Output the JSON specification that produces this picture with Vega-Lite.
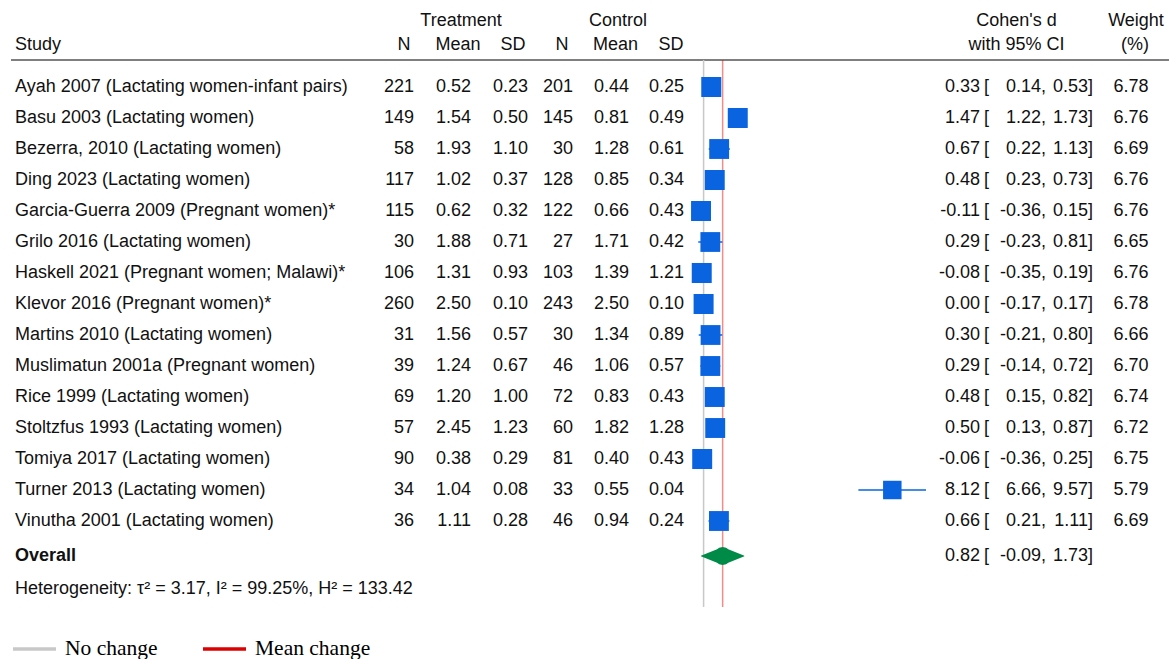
{
  "$schema": "https://vega.github.io/schema/vega-lite/v6.json",
  "padding": {"left": 10, "top": 9.5, "right": 0, "bottom": 0},
  "background": "white",
  "data": {"values": [{}]},
  "datasets": {
    "studies": [
      {"study": "Ayah 2007 (Lactating women-infant pairs)", "tN": 221, "tMean": 0.52, "tSD": 0.23, "cN": 201, "cMean": 0.44, "cSD": 0.25, "d": 0.33, "lo": 0.14, "hi": 0.53, "w": 6.78},
      {"study": "Basu 2003 (Lactating women)", "tN": 149, "tMean": 1.54, "tSD": 0.50, "cN": 145, "cMean": 0.81, "cSD": 0.49, "d": 1.47, "lo": 1.22, "hi": 1.73, "w": 6.76},
      {"study": "Bezerra, 2010 (Lactating women)", "tN": 58, "tMean": 1.93, "tSD": 1.10, "cN": 30, "cMean": 1.28, "cSD": 0.61, "d": 0.67, "lo": 0.22, "hi": 1.13, "w": 6.69},
      {"study": "Ding 2023 (Lactating women)", "tN": 117, "tMean": 1.02, "tSD": 0.37, "cN": 128, "cMean": 0.85, "cSD": 0.34, "d": 0.48, "lo": 0.23, "hi": 0.73, "w": 6.76},
      {"study": "Garcia-Guerra 2009 (Pregnant women)*", "tN": 115, "tMean": 0.62, "tSD": 0.32, "cN": 122, "cMean": 0.66, "cSD": 0.43, "d": -0.11, "lo": -0.36, "hi": 0.15, "w": 6.76},
      {"study": "Grilo 2016 (Lactating women)", "tN": 30, "tMean": 1.88, "tSD": 0.71, "cN": 27, "cMean": 1.71, "cSD": 0.42, "d": 0.29, "lo": -0.23, "hi": 0.81, "w": 6.65},
      {"study": "Haskell 2021 (Pregnant women; Malawi)*", "tN": 106, "tMean": 1.31, "tSD": 0.93, "cN": 103, "cMean": 1.39, "cSD": 1.21, "d": -0.08, "lo": -0.35, "hi": 0.19, "w": 6.76},
      {"study": "Klevor 2016 (Pregnant women)*", "tN": 260, "tMean": 2.50, "tSD": 0.10, "cN": 243, "cMean": 2.50, "cSD": 0.10, "d": 0.00, "lo": -0.17, "hi": 0.17, "w": 6.78},
      {"study": "Martins 2010 (Lactating women)", "tN": 31, "tMean": 1.56, "tSD": 0.57, "cN": 30, "cMean": 1.34, "cSD": 0.89, "d": 0.30, "lo": -0.21, "hi": 0.80, "w": 6.66},
      {"study": "Muslimatun 2001a (Pregnant women)", "tN": 39, "tMean": 1.24, "tSD": 0.67, "cN": 46, "cMean": 1.06, "cSD": 0.57, "d": 0.29, "lo": -0.14, "hi": 0.72, "w": 6.70},
      {"study": "Rice 1999 (Lactating women)", "tN": 69, "tMean": 1.20, "tSD": 1.00, "cN": 72, "cMean": 0.83, "cSD": 0.43, "d": 0.48, "lo": 0.15, "hi": 0.82, "w": 6.74},
      {"study": "Stoltzfus 1993 (Lactating women)", "tN": 57, "tMean": 2.45, "tSD": 1.23, "cN": 60, "cMean": 1.82, "cSD": 1.28, "d": 0.50, "lo": 0.13, "hi": 0.87, "w": 6.72},
      {"study": "Tomiya 2017 (Lactating women)", "tN": 90, "tMean": 0.38, "tSD": 0.29, "cN": 81, "cMean": 0.40, "cSD": 0.43, "d": -0.06, "lo": -0.36, "hi": 0.25, "w": 6.75},
      {"study": "Turner 2013 (Lactating women)", "tN": 34, "tMean": 1.04, "tSD": 0.08, "cN": 33, "cMean": 0.55, "cSD": 0.04, "d": 8.12, "lo": 6.66, "hi": 9.57, "w": 5.79},
      {"study": "Vinutha 2001 (Lactating women)", "tN": 36, "tMean": 1.11, "tSD": 0.28, "cN": 46, "cMean": 0.94, "cSD": 0.24, "d": 0.66, "lo": 0.21, "hi": 1.11, "w": 6.69}
    ],
    "overall": [{"label": "Overall", "d": 0.82, "lo": -0.09, "hi": 1.73}]
  },
  "spacing": 0,
  "bounds": "flush",
  "config": {
    "view": {"stroke": null},
    "text": {"font": "Liberation Sans", "fontSize": 18, "color": "#111111"},
    "locale": {"number": {"decimal": ".", "thousands": ",", "grouping": [3], "currency": ["$", ""], "minus": "-"}}
  },
  "hconcat": [
    {
      "width": 350, "height": 620,
      "layer": [
        {"mark": {"type": "rule", "color": "#555555", "strokeWidth": 1.5}, "encoding": {"x": {"value": 0}, "x2": {"value": "width"}, "y": {"datum": "h2", "type": "nominal", "bandPosition": 0.629, "axis": null, "scale": {"type": "band", "domain": ["h1","h2","Ayah 2007 (Lactating women-infant pairs)","Basu 2003 (Lactating women)","Bezerra, 2010 (Lactating women)","Ding 2023 (Lactating women)","Garcia-Guerra 2009 (Pregnant women)*","Grilo 2016 (Lactating women)","Haskell 2021 (Pregnant women; Malawi)*","Klevor 2016 (Pregnant women)*","Martins 2010 (Lactating women)","Muslimatun 2001a (Pregnant women)","Rice 1999 (Lactating women)","Stoltzfus 1993 (Lactating women)","Tomiya 2017 (Lactating women)","Turner 2013 (Lactating women)","Vinutha 2001 (Lactating women)","Overall","Het","end"], "paddingInner": 0, "paddingOuter": 0}}}},
        {"mark": {"type": "text", "align": "left", "dx": 4, "text": "Study"}, "encoding": {"x": {"value": 0}, "y": {"datum": "h2", "type": "nominal", "bandPosition": 0.161, "axis": null}}},
        {"data": {"name": "studies"}, "mark": {"type": "text", "align": "left", "dx": 4}, "encoding": {"x": {"value": 0}, "y": {"field": "study", "type": "nominal", "axis": null}, "text": {"field": "study"}}},
        {"data": {"name": "overall"}, "mark": {"type": "text", "align": "left", "dx": 4, "fontWeight": "bold"}, "encoding": {"x": {"value": 0}, "y": {"datum": "Overall", "type": "nominal", "bandPosition": 0.629, "axis": null}, "text": {"field": "label"}}},
        {"mark": {"type": "text", "align": "left", "dx": 4, "text": "Heterogeneity: τ² = 3.17, I² = 99.25%, H² = 133.42"}, "encoding": {"x": {"value": 0}, "y": {"datum": "Het", "type": "nominal", "bandPosition": 0.694, "axis": null}}}
      ]
    },
    {
      "width": 53, "height": 620,
      "layer": [
        {"mark": {"type": "rule", "color": "#555555", "strokeWidth": 1.5}, "encoding": {"x": {"value": 0}, "x2": {"value": "width"}, "y": {"datum": "h2", "type": "nominal", "bandPosition": 0.629, "axis": null, "scale": {"type": "band", "domain": ["h1","h2","Ayah 2007 (Lactating women-infant pairs)","Basu 2003 (Lactating women)","Bezerra, 2010 (Lactating women)","Ding 2023 (Lactating women)","Garcia-Guerra 2009 (Pregnant women)*","Grilo 2016 (Lactating women)","Haskell 2021 (Pregnant women; Malawi)*","Klevor 2016 (Pregnant women)*","Martins 2010 (Lactating women)","Muslimatun 2001a (Pregnant women)","Rice 1999 (Lactating women)","Stoltzfus 1993 (Lactating women)","Tomiya 2017 (Lactating women)","Turner 2013 (Lactating women)","Vinutha 2001 (Lactating women)","Overall","Het","end"], "paddingInner": 0, "paddingOuter": 0}}}},
        {"mark": {"type": "text", "align": "center", "dx": -10, "text": "N"}, "encoding": {"x": {"value": "width"}, "y": {"datum": "h2", "type": "nominal", "bandPosition": 0.161, "axis": null}}},
        {"data": {"name": "studies"}, "mark": {"type": "text", "align": "right"}, "encoding": {"x": {"value": "width"}, "y": {"field": "study", "type": "nominal", "axis": null}, "text": {"field": "tN", "type": "quantitative", "format": "d"}}}
      ]
    },
    {
      "width": 57, "height": 620,
      "layer": [
        {"mark": {"type": "rule", "color": "#555555", "strokeWidth": 1.5}, "encoding": {"x": {"value": 0}, "x2": {"value": "width"}, "y": {"datum": "h2", "type": "nominal", "bandPosition": 0.629, "axis": null, "scale": {"type": "band", "domain": ["h1","h2","Ayah 2007 (Lactating women-infant pairs)","Basu 2003 (Lactating women)","Bezerra, 2010 (Lactating women)","Ding 2023 (Lactating women)","Garcia-Guerra 2009 (Pregnant women)*","Grilo 2016 (Lactating women)","Haskell 2021 (Pregnant women; Malawi)*","Klevor 2016 (Pregnant women)*","Martins 2010 (Lactating women)","Muslimatun 2001a (Pregnant women)","Rice 1999 (Lactating women)","Stoltzfus 1993 (Lactating women)","Tomiya 2017 (Lactating women)","Turner 2013 (Lactating women)","Vinutha 2001 (Lactating women)","Overall","Het","end"], "paddingInner": 0, "paddingOuter": 0}}}},
        {"mark": {"type": "text", "align": "center", "dx": -10, "text": "Treatment"}, "encoding": {"x": {"value": "width"}, "y": {"datum": "h1", "type": "nominal", "bandPosition": 0.355, "axis": null}}},
        {"mark": {"type": "text", "align": "center", "dx": -13, "text": "Mean"}, "encoding": {"x": {"value": "width"}, "y": {"datum": "h2", "type": "nominal", "bandPosition": 0.161, "axis": null}}},
        {"data": {"name": "studies"}, "mark": {"type": "text", "align": "right"}, "encoding": {"x": {"value": "width"}, "y": {"field": "study", "type": "nominal", "axis": null}, "text": {"field": "tMean", "type": "quantitative", "format": ".2f"}}}
      ]
    },
    {
      "width": 57, "height": 620,
      "layer": [
        {"mark": {"type": "rule", "color": "#555555", "strokeWidth": 1.5}, "encoding": {"x": {"value": 0}, "x2": {"value": "width"}, "y": {"datum": "h2", "type": "nominal", "bandPosition": 0.629, "axis": null, "scale": {"type": "band", "domain": ["h1","h2","Ayah 2007 (Lactating women-infant pairs)","Basu 2003 (Lactating women)","Bezerra, 2010 (Lactating women)","Ding 2023 (Lactating women)","Garcia-Guerra 2009 (Pregnant women)*","Grilo 2016 (Lactating women)","Haskell 2021 (Pregnant women; Malawi)*","Klevor 2016 (Pregnant women)*","Martins 2010 (Lactating women)","Muslimatun 2001a (Pregnant women)","Rice 1999 (Lactating women)","Stoltzfus 1993 (Lactating women)","Tomiya 2017 (Lactating women)","Turner 2013 (Lactating women)","Vinutha 2001 (Lactating women)","Overall","Het","end"], "paddingInner": 0, "paddingOuter": 0}}}},
        {"mark": {"type": "text", "align": "center", "dx": -15, "text": "SD"}, "encoding": {"x": {"value": "width"}, "y": {"datum": "h2", "type": "nominal", "bandPosition": 0.161, "axis": null}}},
        {"data": {"name": "studies"}, "mark": {"type": "text", "align": "right"}, "encoding": {"x": {"value": "width"}, "y": {"field": "study", "type": "nominal", "axis": null}, "text": {"field": "tSD", "type": "quantitative", "format": ".2f"}}}
      ]
    },
    {
      "width": 45, "height": 620,
      "layer": [
        {"mark": {"type": "rule", "color": "#555555", "strokeWidth": 1.5}, "encoding": {"x": {"value": 0}, "x2": {"value": "width"}, "y": {"datum": "h2", "type": "nominal", "bandPosition": 0.629, "axis": null, "scale": {"type": "band", "domain": ["h1","h2","Ayah 2007 (Lactating women-infant pairs)","Basu 2003 (Lactating women)","Bezerra, 2010 (Lactating women)","Ding 2023 (Lactating women)","Garcia-Guerra 2009 (Pregnant women)*","Grilo 2016 (Lactating women)","Haskell 2021 (Pregnant women; Malawi)*","Klevor 2016 (Pregnant women)*","Martins 2010 (Lactating women)","Muslimatun 2001a (Pregnant women)","Rice 1999 (Lactating women)","Stoltzfus 1993 (Lactating women)","Tomiya 2017 (Lactating women)","Turner 2013 (Lactating women)","Vinutha 2001 (Lactating women)","Overall","Het","end"], "paddingInner": 0, "paddingOuter": 0}}}},
        {"mark": {"type": "text", "align": "center", "dx": -11, "text": "N"}, "encoding": {"x": {"value": "width"}, "y": {"datum": "h2", "type": "nominal", "bandPosition": 0.161, "axis": null}}},
        {"data": {"name": "studies"}, "mark": {"type": "text", "align": "right"}, "encoding": {"x": {"value": "width"}, "y": {"field": "study", "type": "nominal", "axis": null}, "text": {"field": "cN", "type": "quantitative", "format": "d"}}}
      ]
    },
    {
      "width": 56, "height": 620,
      "layer": [
        {"mark": {"type": "rule", "color": "#555555", "strokeWidth": 1.5}, "encoding": {"x": {"value": 0}, "x2": {"value": "width"}, "y": {"datum": "h2", "type": "nominal", "bandPosition": 0.629, "axis": null, "scale": {"type": "band", "domain": ["h1","h2","Ayah 2007 (Lactating women-infant pairs)","Basu 2003 (Lactating women)","Bezerra, 2010 (Lactating women)","Ding 2023 (Lactating women)","Garcia-Guerra 2009 (Pregnant women)*","Grilo 2016 (Lactating women)","Haskell 2021 (Pregnant women; Malawi)*","Klevor 2016 (Pregnant women)*","Martins 2010 (Lactating women)","Muslimatun 2001a (Pregnant women)","Rice 1999 (Lactating women)","Stoltzfus 1993 (Lactating women)","Tomiya 2017 (Lactating women)","Turner 2013 (Lactating women)","Vinutha 2001 (Lactating women)","Overall","Het","end"], "paddingInner": 0, "paddingOuter": 0}}}},
        {"mark": {"type": "text", "align": "center", "dx": -11, "text": "Control"}, "encoding": {"x": {"value": "width"}, "y": {"datum": "h1", "type": "nominal", "bandPosition": 0.355, "axis": null}}},
        {"mark": {"type": "text", "align": "center", "dx": -13.5, "text": "Mean"}, "encoding": {"x": {"value": "width"}, "y": {"datum": "h2", "type": "nominal", "bandPosition": 0.161, "axis": null}}},
        {"data": {"name": "studies"}, "mark": {"type": "text", "align": "right"}, "encoding": {"x": {"value": "width"}, "y": {"field": "study", "type": "nominal", "axis": null}, "text": {"field": "cMean", "type": "quantitative", "format": ".2f"}}}
      ]
    },
    {
      "width": 56, "height": 620,
      "layer": [
        {"mark": {"type": "rule", "color": "#555555", "strokeWidth": 1.5}, "encoding": {"x": {"value": 0}, "x2": {"value": "width"}, "y": {"datum": "h2", "type": "nominal", "bandPosition": 0.629, "axis": null, "scale": {"type": "band", "domain": ["h1","h2","Ayah 2007 (Lactating women-infant pairs)","Basu 2003 (Lactating women)","Bezerra, 2010 (Lactating women)","Ding 2023 (Lactating women)","Garcia-Guerra 2009 (Pregnant women)*","Grilo 2016 (Lactating women)","Haskell 2021 (Pregnant women; Malawi)*","Klevor 2016 (Pregnant women)*","Martins 2010 (Lactating women)","Muslimatun 2001a (Pregnant women)","Rice 1999 (Lactating women)","Stoltzfus 1993 (Lactating women)","Tomiya 2017 (Lactating women)","Turner 2013 (Lactating women)","Vinutha 2001 (Lactating women)","Overall","Het","end"], "paddingInner": 0, "paddingOuter": 0}}}},
        {"mark": {"type": "text", "align": "center", "dx": -14, "text": "SD"}, "encoding": {"x": {"value": "width"}, "y": {"datum": "h2", "type": "nominal", "bandPosition": 0.161, "axis": null}}},
        {"data": {"name": "studies"}, "mark": {"type": "text", "align": "right", "dx": -1}, "encoding": {"x": {"value": "width"}, "y": {"field": "study", "type": "nominal", "axis": null}, "text": {"field": "cSD", "type": "quantitative", "format": ".2f"}}}
      ]
    },
    {
      "width": 251, "height": 620,
      "resolve": {"scale": {"size": "independent"}},
      "layer": [
        {"mark": {"type": "rule", "color": "#555555", "strokeWidth": 1.5}, "encoding": {"x": {"value": 0}, "x2": {"value": "width"}, "y": {"datum": "h2", "type": "nominal", "bandPosition": 0.629, "axis": null, "scale": {"type": "band", "domain": ["h1","h2","Ayah 2007 (Lactating women-infant pairs)","Basu 2003 (Lactating women)","Bezerra, 2010 (Lactating women)","Ding 2023 (Lactating women)","Garcia-Guerra 2009 (Pregnant women)*","Grilo 2016 (Lactating women)","Haskell 2021 (Pregnant women; Malawi)*","Klevor 2016 (Pregnant women)*","Martins 2010 (Lactating women)","Muslimatun 2001a (Pregnant women)","Rice 1999 (Lactating women)","Stoltzfus 1993 (Lactating women)","Tomiya 2017 (Lactating women)","Turner 2013 (Lactating women)","Vinutha 2001 (Lactating women)","Overall","Het","end"], "paddingInner": 0, "paddingOuter": 0}}}},
        {"mark": {"type": "rule", "strokeWidth": 1.5}, "encoding": {
          "x": {"datum": 0, "type": "quantitative", "axis": null, "scale": {"domain": [-0.8, 10], "nice": false, "zero": false}},
          "y": {"datum": "h2", "type": "nominal", "bandPosition": 0.629, "axis": null},
          "y2": {"datum": "end", "bandPosition": 0.274},
          "color": {"datum": "No change", "type": "nominal", "scale": {"domain": ["No change", "Mean change"], "range": ["#c8c8c8", "#dd0000"]},
            "legend": {"title": null, "orient": "none", "legendX": 0, "legendY": 616, "direction": "horizontal", "symbolType": "stroke", "symbolSize": 1849, "symbolStrokeWidth": 3.5, "symbolOpacity": 1, "labelFont": "Liberation Serif", "labelFontSize": 21.5, "labelColor": "#000000", "labelOffset": 7, "columnPadding": 38, "padding": 0, "labelLimit": 400,
              "encode": {"symbols": {"update": {"opacity": {"value": 1}, "strokeWidth": {"value": 3.5}}}}}}
        }},
        {"data": {"name": "overall"}, "mark": {"type": "rule", "strokeWidth": 1.5, "opacity": 0.45}, "encoding": {
          "x": {"field": "d", "type": "quantitative", "axis": null, "scale": {"domain": [-0.8, 10], "nice": false, "zero": false}},
          "y": {"datum": "h2", "type": "nominal", "bandPosition": 0.629, "axis": null},
          "y2": {"datum": "end", "bandPosition": 0.274},
          "color": {"datum": "Mean change", "type": "nominal"}
        }},
        {"data": {"name": "studies"}, "mark": {"type": "rule", "color": "#0a64e0", "strokeWidth": 1.5}, "encoding": {
          "x": {"field": "lo", "type": "quantitative", "axis": null, "scale": {"domain": [-0.8, 10], "nice": false, "zero": false}},
          "x2": {"field": "hi"},
          "y": {"field": "study", "type": "nominal", "axis": null}
        }},
        {"data": {"name": "studies"}, "mark": {"type": "point", "shape": "square", "filled": true, "color": "#0a64e0", "opacity": 1}, "encoding": {
          "x": {"field": "d", "type": "quantitative", "axis": null, "scale": {"domain": [-0.8, 10], "nice": false, "zero": false}},
          "y": {"field": "study", "type": "nominal", "axis": null},
          "size": {"field": "w", "type": "quantitative", "scale": {"domain": [0, 6.78], "range": [0, 400]}, "legend": null}
        }},
        {"data": {"name": "overall"}, "transform": [{"fold": ["lo", "d", "hi"], "as": ["part", "val"]}], "mark": {"type": "trail", "color": "#008a48"}, "encoding": {
          "x": {"field": "val", "type": "quantitative", "axis": null, "scale": {"domain": [-0.8, 10], "nice": false, "zero": false}},
          "y": {"datum": "Overall", "type": "nominal", "bandPosition": 0.629, "axis": null},
          "order": {"field": "val", "type": "quantitative"},
          "size": {"field": "part", "type": "nominal", "scale": {"type": "ordinal", "domain": ["lo", "d", "hi"], "range": [0, 18, 0]}, "legend": null}
        }}
      ]
    },
    {
      "width": 44, "height": 620,
      "layer": [
        {"mark": {"type": "rule", "color": "#555555", "strokeWidth": 1.5}, "encoding": {"x": {"value": 0}, "x2": {"value": "width"}, "y": {"datum": "h2", "type": "nominal", "bandPosition": 0.629, "axis": null, "scale": {"type": "band", "domain": ["h1","h2","Ayah 2007 (Lactating women-infant pairs)","Basu 2003 (Lactating women)","Bezerra, 2010 (Lactating women)","Ding 2023 (Lactating women)","Garcia-Guerra 2009 (Pregnant women)*","Grilo 2016 (Lactating women)","Haskell 2021 (Pregnant women; Malawi)*","Klevor 2016 (Pregnant women)*","Martins 2010 (Lactating women)","Muslimatun 2001a (Pregnant women)","Rice 1999 (Lactating women)","Stoltzfus 1993 (Lactating women)","Tomiya 2017 (Lactating women)","Turner 2013 (Lactating women)","Vinutha 2001 (Lactating women)","Overall","Het","end"], "paddingInner": 0, "paddingOuter": 0}}}},
        {"data": {"name": "studies"}, "mark": {"type": "text", "align": "right"}, "encoding": {"x": {"value": "width"}, "y": {"field": "study", "type": "nominal", "axis": null}, "text": {"field": "d", "type": "quantitative", "format": ".2f"}}},
        {"data": {"name": "overall"}, "mark": {"type": "text", "align": "right"}, "encoding": {"x": {"value": "width"}, "y": {"datum": "Overall", "type": "nominal", "bandPosition": 0.629, "axis": null}, "text": {"field": "d", "type": "quantitative", "format": ".2f"}}}
      ]
    },
    {
      "width": 66, "height": 620,
      "layer": [
        {"mark": {"type": "rule", "color": "#555555", "strokeWidth": 1.5}, "encoding": {"x": {"value": 0}, "x2": {"value": "width"}, "y": {"datum": "h2", "type": "nominal", "bandPosition": 0.629, "axis": null, "scale": {"type": "band", "domain": ["h1","h2","Ayah 2007 (Lactating women-infant pairs)","Basu 2003 (Lactating women)","Bezerra, 2010 (Lactating women)","Ding 2023 (Lactating women)","Garcia-Guerra 2009 (Pregnant women)*","Grilo 2016 (Lactating women)","Haskell 2021 (Pregnant women; Malawi)*","Klevor 2016 (Pregnant women)*","Martins 2010 (Lactating women)","Muslimatun 2001a (Pregnant women)","Rice 1999 (Lactating women)","Stoltzfus 1993 (Lactating women)","Tomiya 2017 (Lactating women)","Turner 2013 (Lactating women)","Vinutha 2001 (Lactating women)","Overall","Het","end"], "paddingInner": 0, "paddingOuter": 0}}}},
        {"mark": {"type": "text", "align": "center", "dx": -29.5, "text": "Cohen's d"}, "encoding": {"x": {"value": "width"}, "y": {"datum": "h1", "type": "nominal", "bandPosition": 0.355, "axis": null}}},
        {"mark": {"type": "text", "align": "center", "dx": -29.5, "text": "with 95% CI"}, "encoding": {"x": {"value": "width"}, "y": {"datum": "h2", "type": "nominal", "bandPosition": 0.161, "axis": null}}},
        {"data": {"name": "studies"}, "mark": {"type": "text", "align": "left", "dx": 4, "text": "["}, "encoding": {"x": {"value": 0}, "y": {"field": "study", "type": "nominal", "axis": null}}},
        {"data": {"name": "studies"}, "mark": {"type": "text", "align": "right", "dx": -5}, "encoding": {"x": {"value": "width"}, "y": {"field": "study", "type": "nominal", "axis": null}, "text": {"field": "lo", "type": "quantitative", "format": ".2f"}}},
        {"data": {"name": "studies"}, "mark": {"type": "text", "align": "right", "text": ","}, "encoding": {"x": {"value": "width"}, "y": {"field": "study", "type": "nominal", "axis": null}}},
        {"data": {"name": "overall"}, "mark": {"type": "text", "align": "left", "dx": 4, "text": "["}, "encoding": {"x": {"value": 0}, "y": {"datum": "Overall", "type": "nominal", "bandPosition": 0.629, "axis": null}}},
        {"data": {"name": "overall"}, "mark": {"type": "text", "align": "right", "dx": -5}, "encoding": {"x": {"value": "width"}, "y": {"datum": "Overall", "type": "nominal", "bandPosition": 0.629, "axis": null}, "text": {"field": "lo", "type": "quantitative", "format": ".2f"}}},
        {"data": {"name": "overall"}, "mark": {"type": "text", "align": "right", "text": ","}, "encoding": {"x": {"value": "width"}, "y": {"datum": "Overall", "type": "nominal", "bandPosition": 0.629, "axis": null}}}
      ]
    },
    {
      "width": 47, "height": 620,
      "layer": [
        {"mark": {"type": "rule", "color": "#555555", "strokeWidth": 1.5}, "encoding": {"x": {"value": 0}, "x2": {"value": "width"}, "y": {"datum": "h2", "type": "nominal", "bandPosition": 0.629, "axis": null, "scale": {"type": "band", "domain": ["h1","h2","Ayah 2007 (Lactating women-infant pairs)","Basu 2003 (Lactating women)","Bezerra, 2010 (Lactating women)","Ding 2023 (Lactating women)","Garcia-Guerra 2009 (Pregnant women)*","Grilo 2016 (Lactating women)","Haskell 2021 (Pregnant women; Malawi)*","Klevor 2016 (Pregnant women)*","Martins 2010 (Lactating women)","Muslimatun 2001a (Pregnant women)","Rice 1999 (Lactating women)","Stoltzfus 1993 (Lactating women)","Tomiya 2017 (Lactating women)","Turner 2013 (Lactating women)","Vinutha 2001 (Lactating women)","Overall","Het","end"], "paddingInner": 0, "paddingOuter": 0}}}},
        {"data": {"name": "studies"}, "mark": {"type": "text", "align": "right", "dx": -5}, "encoding": {"x": {"value": "width"}, "y": {"field": "study", "type": "nominal", "axis": null}, "text": {"field": "hi", "type": "quantitative", "format": ".2f"}}},
        {"data": {"name": "studies"}, "mark": {"type": "text", "align": "right", "text": "]"}, "encoding": {"x": {"value": "width"}, "y": {"field": "study", "type": "nominal", "axis": null}}},
        {"data": {"name": "overall"}, "mark": {"type": "text", "align": "right", "dx": -5}, "encoding": {"x": {"value": "width"}, "y": {"datum": "Overall", "type": "nominal", "bandPosition": 0.629, "axis": null}, "text": {"field": "hi", "type": "quantitative", "format": ".2f"}}},
        {"data": {"name": "overall"}, "mark": {"type": "text", "align": "right", "text": "]"}, "encoding": {"x": {"value": "width"}, "y": {"datum": "Overall", "type": "nominal", "bandPosition": 0.629, "axis": null}}}
      ]
    },
    {
      "width": 76, "height": 620,
      "layer": [
        {"mark": {"type": "rule", "color": "#555555", "strokeWidth": 1.5}, "encoding": {"x": {"value": 0}, "x2": {"value": "width"}, "y": {"datum": "h2", "type": "nominal", "bandPosition": 0.629, "axis": null, "scale": {"type": "band", "domain": ["h1","h2","Ayah 2007 (Lactating women-infant pairs)","Basu 2003 (Lactating women)","Bezerra, 2010 (Lactating women)","Ding 2023 (Lactating women)","Garcia-Guerra 2009 (Pregnant women)*","Grilo 2016 (Lactating women)","Haskell 2021 (Pregnant women; Malawi)*","Klevor 2016 (Pregnant women)*","Martins 2010 (Lactating women)","Muslimatun 2001a (Pregnant women)","Rice 1999 (Lactating women)","Stoltzfus 1993 (Lactating women)","Tomiya 2017 (Lactating women)","Turner 2013 (Lactating women)","Vinutha 2001 (Lactating women)","Overall","Het","end"], "paddingInner": 0, "paddingOuter": 0}}}},
        {"mark": {"type": "text", "align": "center", "dx": -33, "text": "Weight"}, "encoding": {"x": {"value": "width"}, "y": {"datum": "h1", "type": "nominal", "bandPosition": 0.355, "axis": null}}},
        {"mark": {"type": "text", "align": "center", "dx": -34, "text": "(%)"}, "encoding": {"x": {"value": "width"}, "y": {"datum": "h2", "type": "nominal", "bandPosition": 0.161, "axis": null}}},
        {"data": {"name": "studies"}, "mark": {"type": "text", "align": "center", "dx": -38}, "encoding": {"x": {"value": "width"}, "y": {"field": "study", "type": "nominal", "axis": null}, "text": {"field": "w", "type": "quantitative", "format": ".2f"}}}
      ]
    }
  ]
}
